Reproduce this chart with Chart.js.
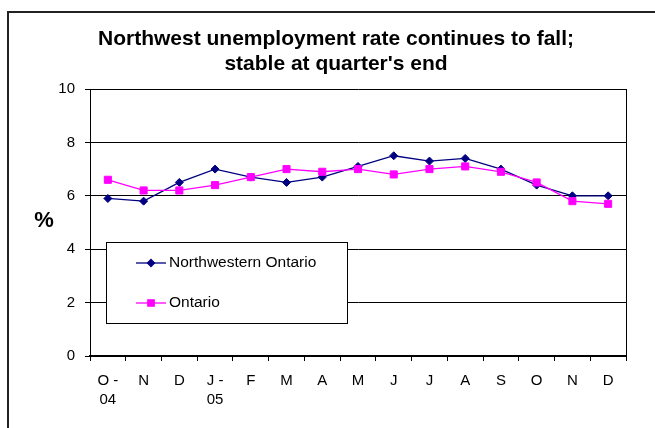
<!DOCTYPE html>
<html><head><meta charset="utf-8">
<script src="https://cdn.jsdelivr.net/npm/chart.js@4"></script>
<style>
html,body{margin:0;padding:0;overflow:hidden;background:#fff;width:655px;height:428px}
#wrap{position:absolute;left:0;top:0;width:672px;height:428px}
</style>
</head><body><div id="wrap"><canvas id="c" width="672" height="428"></canvas></div>
<script>
const categories = [["O -","04"],"N","D",["J -","05"],"F","M","A","M","J","J","A","S","O","N","D"];
const northwestern = [5.9,5.8,6.5,7.0,6.7,6.5,6.7,7.1,7.5,7.3,7.4,7.0,6.4,6.0,6.0];
const ontario = [6.6,6.2,6.2,6.4,6.7,7.0,6.9,7.0,6.8,7.0,7.1,6.9,6.5,5.8,5.7];
const seriesNames = ["Northwestern Ontario","Ontario"];
const yTicks = [0,2,4,6,8,10];
const titleLines = ["Northwest unemployment rate continues to fall;","stable at quarter's end"];
const yUnit = "%";

const FONT = "'Liberation Sans', Arial, sans-serif";

const decor = {
  id: 'decor',
  afterDraw(chart) {
    const ctx = chart.ctx;
    const a = chart.chartArea;
    ctx.save();
    // outer frame (cropped on right and bottom)
    ctx.strokeStyle = '#222';
    ctx.lineWidth = 2;
    ctx.beginPath();
    ctx.moveTo(8, 428); ctx.lineTo(8, 12); ctx.lineTo(672, 12);
    ctx.stroke();
    // plot area right border
    ctx.strokeStyle = '#000';
    ctx.lineWidth = 1;
    ctx.beginPath();
    ctx.moveTo(Math.round(a.right) + 0.5, a.top);
    ctx.lineTo(Math.round(a.right) + 0.5, a.bottom);
    ctx.stroke();
    // % label
    ctx.fillStyle = '#000';
    ctx.font = "bold 22px " + FONT;
    ctx.textAlign = 'center';
    ctx.textBaseline = 'middle';
    ctx.fillText(yUnit, 44, 221);
    // legend
    const bx = 106.5, by = 242.5, bw = 241, bh = 81;
    ctx.fillStyle = '#fff';
    ctx.fillRect(bx, by, bw, bh);
    ctx.strokeStyle = '#000';
    ctx.lineWidth = 1;
    ctx.strokeRect(bx, by, bw, bh);
    const rows = [263, 303];
    chart.data.datasets.forEach((ds, i) => {
      const y = rows[i];
      ctx.strokeStyle = ds.borderColor;
      ctx.lineWidth = ds.borderWidth;
      ctx.beginPath();
      ctx.moveTo(136, y); ctx.lineTo(166, y);
      ctx.stroke();
      ctx.fillStyle = ds.pointBackgroundColor;
      ctx.strokeStyle = ds.pointBorderColor;
      Chart.helpers.drawPoint(ctx, {pointStyle: ds.pointStyle, radius: ds.pointRadius - 0.5, rotation: 0, borderWidth: 1}, 151, y);
      ctx.fillStyle = '#000';
      ctx.font = "15.5px " + FONT;
      ctx.textAlign = 'left';
      ctx.textBaseline = 'middle';
      ctx.fillText(ds.label, 169, y);
    });
    ctx.restore();
  }
};

new Chart(document.getElementById('c'), {
  type: 'line',
  data: {
    labels: categories,
    datasets: [
      {
        label: seriesNames[0], data: northwestern, order: 1, yAxisID: 'y',
        borderColor: '#000080', backgroundColor: '#000080', borderWidth: 1.3,
        pointStyle: 'rectRot', pointRadius: 4, pointBackgroundColor: '#000080', pointBorderColor: '#000080', pointBorderWidth: 1,
        tension: 0, fill: false
      },
      {
        label: seriesNames[1], data: ontario, order: 0, yAxisID: 'y',
        borderColor: '#FF00FF', backgroundColor: '#FF00FF', borderWidth: 1.3,
        pointStyle: 'rect', pointRadius: 5, pointBackgroundColor: '#FF00FF', pointBorderColor: '#FF00FF', pointBorderWidth: 1,
        tension: 0, fill: false
      }
    ]
  },
  options: {
    responsive: false,
    animation: false,
    devicePixelRatio: 1,
    layout: { padding: 0 },
    plugins: {
      legend: { display: false },
      tooltip: { enabled: false },
      title: {
        display: true,
        text: titleLines,
        color: '#000',
        font: { family: FONT, size: 21, weight: 'bold', lineHeight: 25/21 },
        padding: { top: 27, bottom: 12 }
      }
    },
    scales: {
      x: {
        type: 'category',
        offset: true,
        grid: { display: true, drawOnChartArea: false, drawTicks: true, tickLength: 5, offset: true, color: '#000' },
        border: { display: true, color: '#000', width: 2 },
        ticks: { color: '#000', font: { family: FONT, size: 15, lineHeight: 19/15 }, padding: 10, maxRotation: 0, autoSkip: false },
        afterFit(scale) { scale.height = 72; }
      },
      y: {
        position: 'left',
        min: 0, max: 10,
        afterBuildTicks(scale) { scale.ticks = yTicks.map(v => ({ value: v })); },
        grid: { color: '#000', lineWidth: 1, drawTicks: true, tickLength: 5 },
        border: { display: true, color: '#000', width: 1 },
        ticks: { color: '#000', font: { family: FONT, size: 15 }, padding: 10 },
        afterFit(scale) { scale.width = 90; }
      },
      spacer: {
        position: 'right',
        min: 0, max: 10,
        grid: { display: false, drawOnChartArea: false, drawTicks: false },
        border: { display: false },
        ticks: { display: false },
        afterFit(scale) { scale.width = 46; }
      }
    }
  },
  plugins: [decor]
});
</script>
</body></html>
